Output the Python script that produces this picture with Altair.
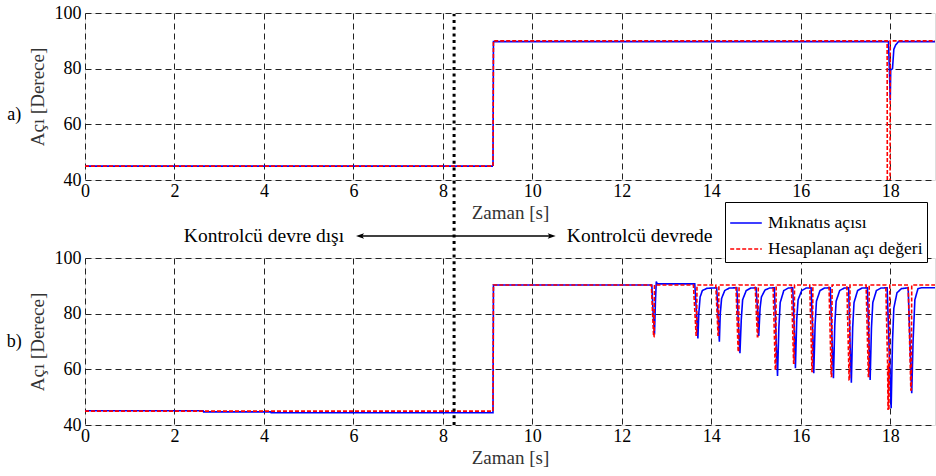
import altair as alt
import pandas as pd

FONT = "Liberation Serif"

series_names = ["Mıknatıs açısı", "Hesaplanan açı değeri"]
series_colors = ["#0000ff", "#ff0000"]

x_ticks = [0, 2, 4, 6, 8, 10, 12, 14, 16, 18]
y_ticks = [40, 60, 80, 100]

# ---- panel a) ----
top_blue_t = [0, 9.12, 9.13, 17.96, 17.98, 18.00, 18.01, 18.05, 18.08, 18.12, 18.18, 19.0]
top_blue_v = [45, 45, 89.7, 89.7, 80, 68.7, 79.5, 80, 87, 88.5, 89.7, 89.7]
top_red_t = [0, 9.12, 9.13, 17.93, 17.935, 17.995, 18.00, 19.0]
top_red_v = [45, 45, 90, 90, 30, 30, 90, 90]

# ---- panel b) ----
bot_blue_t = [0, 2.64, 2.65, 4.15, 4.16, 9.12, 9.13,
              12.67, 12.70, 12.73, 12.75, 12.77, 12.79,
              13.63, 13.67, 13.70, 13.72, 13.75, 13.80, 13.90,
              14.12, 14.15, 14.18, 14.20, 14.23, 14.30, 14.40,
              14.57, 14.61, 14.64, 14.67, 14.70, 14.78, 14.88,
              15.00, 15.04, 15.06, 15.09, 15.12, 15.20, 15.30,
              15.41, 15.45, 15.48, 15.51, 15.54, 15.62, 15.72,
              15.82, 15.86, 15.88, 15.91, 15.94, 16.02, 16.12,
              16.23, 16.27, 16.29, 16.32, 16.35, 16.43, 16.53,
              16.66, 16.70, 16.73, 16.76, 16.79, 16.87, 16.97,
              17.07, 17.10, 17.13, 17.16, 17.19, 17.27, 17.37,
              17.49, 17.52, 17.55, 17.58, 17.61, 17.69, 17.79,
              17.93, 17.97, 18.02, 18.05, 18.08, 18.15, 18.25,
              18.40, 18.44, 18.48, 18.51, 18.55, 18.62, 18.70, 19.0]
bot_blue_v = [45.1, 45.1, 44.7, 44.7, 44.4, 44.4, 90.3,
              90.3, 80, 72.5, 84, 91.5, 90.7,
              90.7, 80, 71.1, 80, 86, 88.3, 89.1,
              89.3, 80, 69.9, 80, 85.5, 88.3, 89.2,
              89.3, 75, 65.8, 78, 85, 88.3, 89.2,
              89.3, 80, 72, 82, 86, 88.5, 89.2,
              89.3, 70, 57.6, 75, 84, 88.3, 89.2,
              89.3, 72, 60.4, 78, 85, 88.3, 89.2,
              89.3, 72, 58.6, 76, 84.5, 88.3, 89.2,
              89.3, 70, 56.8, 76, 84.5, 88.3, 89.2,
              89.3, 70, 55.2, 75, 84, 88.3, 89.2,
              89.3, 72, 56.2, 75, 84, 88.3, 89.2,
              89.3, 70, 46.0, 70, 82, 87.5, 89.0,
              89.3, 70, 51.4, 70, 85, 89.0, 89.3, 89.3]
bot_red_t = [0, 9.12, 9.13,
             12.66, 12.71, 12.72, 12.73,
             13.60, 13.66, 13.67, 13.68,
             14.10, 14.15, 14.16, 14.17,
             14.55, 14.60, 14.61, 14.62,
             14.98, 15.03, 15.04, 15.05,
             15.38, 15.43, 15.44, 15.45,
             15.79, 15.84, 15.85, 15.86,
             16.20, 16.25, 16.26, 16.27,
             16.63, 16.68, 16.69, 16.70,
             17.03, 17.08, 17.09, 17.10,
             17.46, 17.51, 17.52, 17.53,
             17.90, 17.94, 17.95, 17.96, 17.97, 17.98, 17.99,
             18.40, 18.46, 18.47, 18.48, 19.0]
bot_red_v = [45, 45, 90.3,
             90.3, 71.7, 71.7, 90.3,
             90.3, 72.3, 72.3, 90.3,
             90.3, 72.3, 72.3, 90.3,
             90.3, 66.3, 66.3, 90.3,
             90.3, 71.7, 71.7, 90.3,
             90.3, 59.8, 59.8, 90.3,
             90.3, 62.2, 62.2, 90.3,
             90.3, 59.2, 59.2, 90.3,
             90.3, 57.4, 57.4, 90.3,
             90.3, 56.2, 56.2, 90.3,
             90.3, 57.4, 57.4, 90.3,
             90.3, 62, 45.4, 62, 45.4, 62, 90.3,
             90.3, 52.6, 52.6, 90.3, 90.3]

# annotations (data coordinates)
switch_time = [8.25]
panel_label_x = [-1.58]
top_label_y = [63.4]
bot_label_y = [69.8]
note_y = 107.9
off_text_x = 4.0
arrow_x = [6.17, 10.41]
on_text_x = 10.77
vline_top_y = 187.7


def frame(t, v, name):
    return pd.DataFrame({"t": t, "v": v, "s": name, "i": list(range(len(t)))})


x_scale = alt.Scale(domain=[0, 19.0], nice=False, zero=False)
y_scale = alt.Scale(domain=[40, 100], nice=False, zero=False)

x_axis = alt.Axis(title="Zaman [s]", values=x_ticks, grid=True, gridDash=[6, 4], gridColor="#222",
                  gridWidth=1, ticks=False, domain=False, labelFlush=False,
                  labelFont=FONT, labelFontSize=18, labelColor="black", labelPadding=2,
                  titleFont=FONT, titleFontSize=19, titleFontWeight="normal", titleColor="#333",
                  titlePadding=3)
y_axis = alt.Axis(title="Açı [Derece]", values=y_ticks, grid=True, gridDash=[6, 4], gridColor="#222",
                  gridWidth=1, ticks=False, domain=False,
                  labelFont=FONT, labelFontSize=18, labelColor="black", labelPadding=4,
                  titleFont=FONT, titleFontSize=19, titleFontWeight="normal", titleColor="#333",
                  titlePadding=7)

legend_opts = dict(title=None, orient="none", legendX=640, legendY=189,
                   strokeColor="black", fillColor="white", padding=4,
                   symbolType="stroke", symbolSize=1000, symbolStrokeWidth=1.5,
                   labelFont=FONT, labelFontSize=17.5, labelColor="black",
                   rowPadding=-12, labelOffset=5)
color_enc = alt.Color("s:N", scale=alt.Scale(domain=series_names, range=series_colors),
                      legend=alt.Legend(**legend_opts))
dash_enc = alt.StrokeDash("s:N", scale=alt.Scale(domain=series_names, range=[[1, 0], [4, 2]]),
                          legend=alt.Legend(**legend_opts))


def lines(blue_df, red_df, yaxis):
    base_enc = dict(
        x=alt.X("t:Q", scale=x_scale, axis=x_axis),
        y=alt.Y("v:Q", scale=y_scale, axis=yaxis),
        color=color_enc,
        strokeDash=dash_enc,
        order=alt.Order("i:Q"),
    )
    blue = alt.Chart(blue_df).mark_line(strokeWidth=1.6, clip=True).encode(**base_enc)
    red = alt.Chart(red_df).mark_line(strokeWidth=1.6, clip=True).encode(**base_enc)
    return blue, red


top_blue, top_red = lines(frame(top_blue_t, top_blue_v, series_names[0]),
                          frame(top_red_t, top_red_v, series_names[1]), y_axis)
bot_blue, bot_red = lines(frame(bot_blue_t, bot_blue_v, series_names[0]),
                          frame(bot_red_t, bot_red_v, series_names[1]), y_axis)


def text_layer(xs, ys, txt, align, size):
    return alt.Chart(pd.DataFrame({"x": xs, "y": ys, "txt": txt})).mark_text(
        font=FONT, fontSize=size, color="black", clip=False, align=align, baseline="middle").encode(
        x=alt.X("x:Q", scale=x_scale), y=alt.Y("y:Q", scale=y_scale), text="txt:N")


top_label = text_layer(panel_label_x, top_label_y, ["a)"], "center", 18)
bot_label = text_layer(panel_label_x, bot_label_y, ["b)"], "center", 18)
off_note = text_layer([off_text_x], [note_y], ["Kontrolcü devre dışı"], "center", 19.5)
on_note = text_layer([on_text_x], [note_y], ["Kontrolcü devrede"], "left", 19.5)

vline = alt.Chart(pd.DataFrame({"x": switch_time, "y": [40], "y2": [vline_top_y]})).mark_rule(
    color="black", strokeWidth=3, strokeDash=[3, 3.7], clip=False).encode(
    x=alt.X("x:Q", scale=x_scale), y=alt.Y("y:Q", scale=y_scale), y2="y2:Q")

arrow_line = alt.Chart(pd.DataFrame({"x": [arrow_x[0]], "x2": [arrow_x[1]], "y": [note_y]})).mark_rule(
    color="black", strokeWidth=1.5, clip=False).encode(
    x=alt.X("x:Q", scale=x_scale), x2="x2:Q", y=alt.Y("y:Q", scale=y_scale))

left_head = alt.Chart(pd.DataFrame({"x": [arrow_x[0]], "y": [note_y]})).mark_point(
    shape="M-1,0L0.6,-0.55L0.25,0L0.6,0.55Z", size=100, filled=True, color="black", opacity=1,
    clip=False).encode(x=alt.X("x:Q", scale=x_scale), y=alt.Y("y:Q", scale=y_scale))
right_head = alt.Chart(pd.DataFrame({"x": [arrow_x[1]], "y": [note_y]})).mark_point(
    shape="M1,0L-0.6,-0.55L-0.25,0L-0.6,0.55Z", size=100, filled=True, color="black", opacity=1,
    clip=False).encode(x=alt.X("x:Q", scale=x_scale), y=alt.Y("y:Q", scale=y_scale))

top = alt.layer(top_blue, top_red, top_label).properties(width=850, height=167)
bottom = alt.layer(bot_blue, bot_red, bot_label, vline, off_note, on_note, arrow_line, left_head,
                   right_head).properties(width=850, height=167)

chart = alt.vconcat(top, bottom, spacing=78, bounds="flush").configure_view(
    stroke="black", strokeWidth=1.5).configure(
    background="white", font=FONT, padding={"left": 6, "top": 3, "right": 0, "bottom": 0})

chart.save("out.html", embed_options={"renderer": "svg", "actions": False})
